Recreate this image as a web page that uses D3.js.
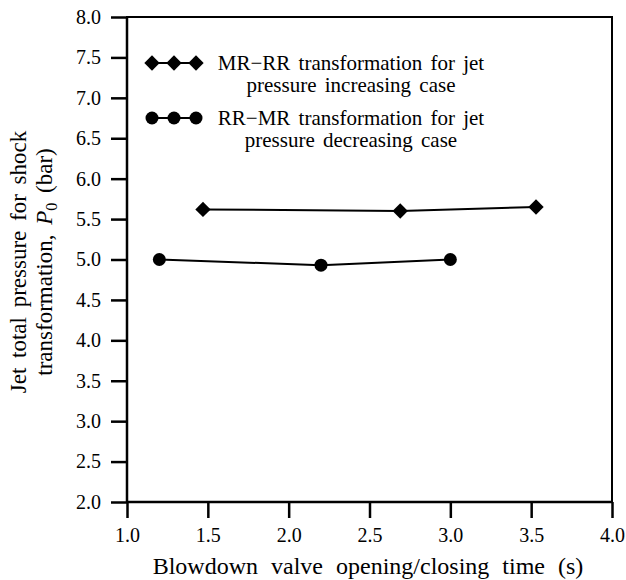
<!DOCTYPE html>
<html>
<head>
<meta charset="utf-8">
<script src="https://cdn.jsdelivr.net/npm/d3@7"></script>
<style>
  body { margin: 0; background: #fff; }
  text { font-family: "Liberation Serif", "Times New Roman", serif; fill: #000; }
</style>
</head>
<body>
<script>
// data
var incTime = [1.47, 2.69, 3.53],
    incPressure = [5.62, 5.60, 5.65];
var decTime = [1.20, 2.20, 3.00],
    decPressure = [5.00, 4.93, 5.00];
var xTicks = [1.0, 1.5, 2.0, 2.5, 3.0, 3.5, 4.0],
    yTicks = [2.0, 2.5, 3.0, 3.5, 4.0, 4.5, 5.0, 5.5, 6.0, 6.5, 7.0, 7.5, 8.0];
var legendLines = [
    ["MR\u2212RR transformation for jet", "pressure increasing case"],
    ["RR\u2212MR transformation for jet", "pressure decreasing case"]
];

var width = 626, height = 580,
    margin = {left: 127, right: 14, top: 17, bottom: 78};

var svg = d3.select("body").append("svg")
    .attr("width", width)
    .attr("height", height);

var x = d3.scaleLinear().domain([1, 4]).range([margin.left, width - margin.right]);
var y = d3.scaleLinear().domain([2, 8]).range([height - margin.bottom, margin.top]);

// frame
svg.append("rect")
    .attr("x", x(1)).attr("y", y(8))
    .attr("width", x(4) - x(1)).attr("height", y(2) - y(8))
    .style("fill", "none").style("stroke", "#000").style("stroke-width", 2);

// x axis
var xAxis = svg.append("g").attr("transform", "translate(0," + y(2) + ")");
xAxis.call(d3.axisBottom(x).tickValues(d3.range(1, 4.01, 0.25)).tickSize(8).tickFormat(""));
xAxis.call(d3.axisBottom(x).tickValues(xTicks).tickSize(16).tickPadding(10).tickFormat(d3.format(".1f")));
xAxis.selectAll(".domain").remove();
xAxis.selectAll("line").style("stroke-width", 2.5);
xAxis.selectAll("text").style("font-size", "20px").style("font-family", "Liberation Serif");

// y axis
var yAxis = svg.append("g").attr("transform", "translate(" + x(1) + ",0)");
yAxis.call(d3.axisLeft(y).tickValues(d3.range(2, 8.01, 0.25)).tickSize(8).tickFormat(""));
yAxis.call(d3.axisLeft(y).tickValues(yTicks).tickSize(16).tickPadding(10).tickFormat(d3.format(".1f")));
yAxis.selectAll(".domain").remove();
yAxis.selectAll("line").style("stroke-width", 2.5);
yAxis.selectAll("text").style("font-size", "20px").style("font-family", "Liberation Serif");

// thicker left/bottom spine
svg.append("line").attr("x1", x(1)).attr("x2", x(1)).attr("y1", y(8)).attr("y2", y(2))
    .style("stroke", "#000").style("stroke-width", 2.5);
svg.append("line").attr("x1", x(1)).attr("x2", x(4)).attr("y1", y(2)).attr("y2", y(2))
    .style("stroke", "#000").style("stroke-width", 2.5);

// axis titles
svg.append("text")
    .attr("x", 368).attr("y", 574)
    .attr("text-anchor", "middle")
    .style("font-size", "24px")
    .style("word-spacing", "7px")
    .text("Blowdown valve opening/closing time (s)");

var yTitle = svg.append("text")
    .attr("transform", "translate(26,262) rotate(-90)")
    .attr("text-anchor", "middle")
    .style("font-size", "23px")
    .style("word-spacing", "4px");
yTitle.append("tspan").attr("x", 0).attr("y", 0).text("Jet total pressure for shock");
var t2 = yTitle.append("tspan").attr("x", 0).attr("y", 26);
t2.append("tspan").text("transformation, ");
t2.append("tspan").style("font-style", "italic").text("P");
t2.append("tspan").attr("dy", 5).style("font-size", "16px").text("0");
t2.append("tspan").attr("dy", -5).text(" (bar)");

// series
var line = d3.line().x(function(d) { return x(d[0]); }).y(function(d) { return y(d[1]); });
var inc = d3.zip(incTime, incPressure),
    dec = d3.zip(decTime, decPressure);

var diamond = d3.symbol().type(d3.symbolDiamond2).size(150);

svg.append("path").datum(inc).attr("d", line)
    .style("fill", "none").style("stroke", "#000").style("stroke-width", 2);
svg.selectAll(".inc").data(inc).enter().append("path")
    .attr("class", "inc")
    .attr("transform", function(d) { return "translate(" + x(d[0]) + "," + y(d[1]) + ")"; })
    .attr("d", diamond)
    .style("fill", "#000");

svg.append("path").datum(dec).attr("d", line)
    .style("fill", "none").style("stroke", "#000").style("stroke-width", 2);
svg.selectAll(".dec").data(dec).enter().append("circle")
    .attr("class", "dec")
    .attr("cx", function(d) { return x(d[0]); })
    .attr("cy", function(d) { return y(d[1]); })
    .attr("r", 6.5)
    .style("fill", "#000");

// legend
var legendY = [63, 118];
var markX = [152, 174, 196];
legendLines.forEach(function(lines, i) {
    var g = svg.append("g");
    g.append("line").attr("x1", markX[0]).attr("x2", markX[2])
        .attr("y1", legendY[i]).attr("y2", legendY[i])
        .style("stroke", "#000").style("stroke-width", 2);
    markX.forEach(function(mx) {
        if (i === 0) {
            g.append("path").attr("transform", "translate(" + mx + "," + legendY[i] + ")")
                .attr("d", diamond).style("fill", "#000");
        } else {
            g.append("circle").attr("cx", mx).attr("cy", legendY[i]).attr("r", 6.5).style("fill", "#000");
        }
    });
    lines.forEach(function(s, j) {
        g.append("text")
            .attr("x", 351).attr("y", legendY[i] + 7 + j * 22)
            .attr("text-anchor", "middle")
            .style("font-size", "21px")
            .style("word-spacing", "3px")
            .text(s);
    });
});
</script>
</body>
</html>
